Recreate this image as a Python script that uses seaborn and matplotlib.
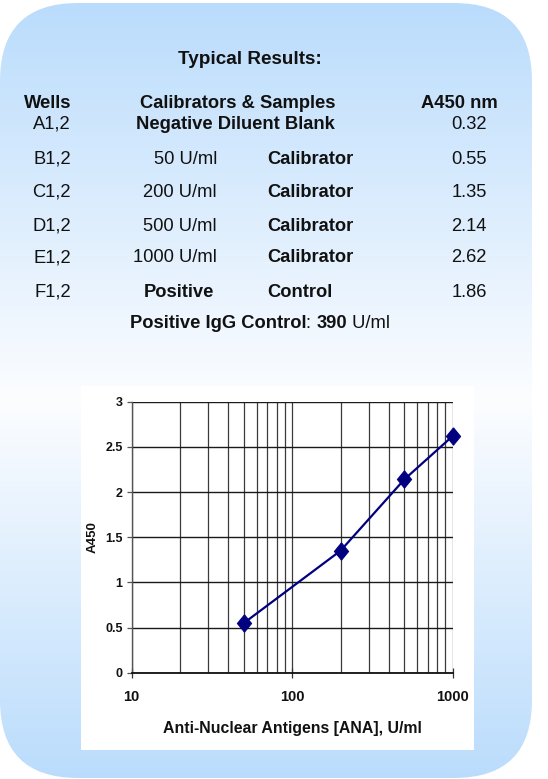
import numpy as np
import pandas as pd
import matplotlib
matplotlib.use("Agg")
import matplotlib.pyplot as plt
from matplotlib.patches import FancyBboxPatch, Rectangle
from matplotlib.ticker import FixedLocator, NullFormatter, LogLocator
import seaborn as sns

# ---- data ----
title = "Typical Results:"
header = ["Wells", "Calibrators & Samples", "A450 nm"]
wells = ["A1,2", "B1,2", "C1,2", "D1,2", "E1,2", "F1,2"]
amounts = ["", "50 U/ml", "200 U/ml", "500 U/ml", "1000 U/ml", "Positive"]
kinds = ["Negative Diluent Blank", "Calibrator", "Calibrator", "Calibrator", "Calibrator", "Control"]
a450_table = ["0.32", "0.55", "1.35", "2.14", "2.62", "1.86"]
footer_parts = [("Positive IgG Control", "bold"), (": ", "normal"), ("390", "bold"), (" U/ml", "normal")]

conc = [50, 200, 500, 1000]
a450 = [0.55, 1.35, 2.14, 2.62]
x_ticks = [10, 100, 1000]
x_ticklabels = ["10", "100", "1000"]
y_ticks = [0, 0.5, 1, 1.5, 2, 2.5, 3]
y_ticklabels = ["0", "0.5", "1", "1.5", "2", "2.5", "3"]
xlabel = "Anti-Nuclear Antigens [ANA], U/ml"
ylabel = "A450"

sns.set_theme(style="white")
plt.rcParams["font.family"] = ["Liberation Sans", "DejaVu Sans"]

W, H = 548, 779
fig = plt.figure(figsize=(W / 100, H / 100), dpi=100)
fig.patch.set_facecolor("white")

# ---- background axes in pixel coordinates ----
bg = fig.add_axes([0, 0, 1, 1], zorder=0)
bg.set_xlim(0, W)
bg.set_ylim(H, 0)
bg.axis("off")

blue = np.array([186, 220, 252]) / 255.0
white = np.array([252, 253, 255]) / 255.0
ys = np.arange(H)
t = np.where(ys < 400, (400 - ys) / 397.0, (ys - 400) / 378.0)
t = np.clip(t, 0, 1)[:, None]
col = white[None, :] * (1 - t) + blue[None, :] * t
grad = np.repeat(col[:, None, :], 10, axis=1)
im = bg.imshow(grad, extent=[0, W, H, 0], aspect="auto", interpolation="bilinear", zorder=1)
shape = FancyBboxPatch((0, 3), 532, 775, boxstyle="round,pad=0,rounding_size=78",
                       transform=bg.transData, facecolor="none", edgecolor="none")
bg.add_patch(shape)
im.set_clip_path(shape)

bg.add_patch(Rectangle((81, 386), 393, 364, facecolor="white", edgecolor="none", zorder=2))

fs = 13.2
tc = "#111111"
bg.text(249.5, 59, title, ha="center", va="center", fontsize=13.6, fontweight="bold", color=tc, zorder=3)
bg.text(71, 103, header[0], ha="right", va="center", fontsize=fs, fontweight="bold", color=tc, zorder=3)
bg.text(237.5, 103, header[1], ha="center", va="center", fontsize=fs, fontweight="bold", color=tc, zorder=3)
bg.text(459.5, 103, header[2], ha="center", va="center", fontsize=fs, fontweight="bold", color=tc, zorder=3)

row_y = [124, 159, 192, 226, 258, 292]
for i, yy in enumerate(row_y):
    bg.text(71, yy, wells[i], ha="right", va="center", fontsize=fs, color=tc, zorder=3)
    bg.text(487, yy, a450_table[i], ha="right", va="center", fontsize=fs, color=tc, zorder=3)
    if i == 0:
        bg.text(235, yy, kinds[i], ha="center", va="center", fontsize=fs, fontweight="bold", color=tc, zorder=3)
    elif i == 5:
        bg.text(178.5, yy, amounts[i], ha="center", va="center", fontsize=fs, fontweight="bold", color=tc, zorder=3)
        bg.text(267, yy, kinds[i], ha="left", va="center", fontsize=fs, fontweight="bold", color=tc, zorder=3)
    else:
        bg.text(217, yy, amounts[i], ha="right", va="center", fontsize=fs, color=tc, zorder=3)
        bg.text(267, yy, kinds[i], ha="left", va="center", fontsize=fs, fontweight="bold", color=tc, zorder=3)

prev = bg.text(130, 323, footer_parts[0][0], ha="left", va="center", fontsize=fs,
               fontweight=footer_parts[0][1], color=tc, zorder=3)
for txt, wt in footer_parts[1:]:
    prev = bg.annotate(txt, xy=(1, 0), xycoords=prev, ha="left", va="bottom", fontsize=fs,
                       fontweight=wt, color=tc, zorder=3)

# ---- chart ----
ax = fig.add_axes([131.7 / W, 106.3 / H, 321.0 / W, 271.0 / H], zorder=2)
ax.set_facecolor("none")
df = pd.DataFrame({"conc": conc, "a450": a450})
diamond = [(0, 1), (0.82, 0), (0, -1), (-0.82, 0), (0, 1)]
sns.lineplot(data=df, x="conc", y="a450", ax=ax, color="#000080", linewidth=1.6,
             marker=diamond, markersize=12.5, markeredgecolor="#000080",
             markerfacecolor="#000080", zorder=5, clip_on=False)
ax.set_xscale("log")
ax.set_xlim(10, 1000)
ax.set_ylim(0, 3)
ax.xaxis.set_major_locator(FixedLocator(x_ticks))
ax.set_xticklabels(x_ticklabels)
ax.xaxis.set_minor_locator(LogLocator(base=10, subs=np.arange(2, 10)))
ax.xaxis.set_minor_formatter(NullFormatter())
ax.set_yticks(y_ticks)
ax.set_yticklabels(y_ticklabels)

ax.grid(True, which="major", axis="y", color="#1a1a1a", linewidth=1.0)
ax.grid(True, which="both", axis="x", color="#3a3a3a", linewidth=0.9)
for s in ["top", "right"]:
    ax.spines[s].set_visible(False)
ax.spines["left"].set_color("#555555")
ax.spines["left"].set_linewidth(1.0)
ax.spines["bottom"].set_color("#111111")
ax.spines["bottom"].set_linewidth(1.3)

ax.tick_params(axis="y", which="major", direction="out", length=3.5, width=0.9, color="#555555",
               pad=3, labelsize=9, left=True)
ax.tick_params(axis="x", which="major", direction="inout", length=7, width=0.9, color="#333333",
               pad=9, labelsize=10.5, bottom=True)
ax.tick_params(axis="x", which="minor", length=0, bottom=False)
for lab in ax.get_xticklabels() + ax.get_yticklabels():
    lab.set_fontweight("bold")
    lab.set_color(tc)

ax.set_xlabel(xlabel, fontsize=11.4, fontweight="bold", color=tc, labelpad=12)
ax.set_ylabel(ylabel, fontsize=9.5, fontweight="bold", color=tc, labelpad=5)

fig.savefig("out.png", dpi=100, facecolor="white")
